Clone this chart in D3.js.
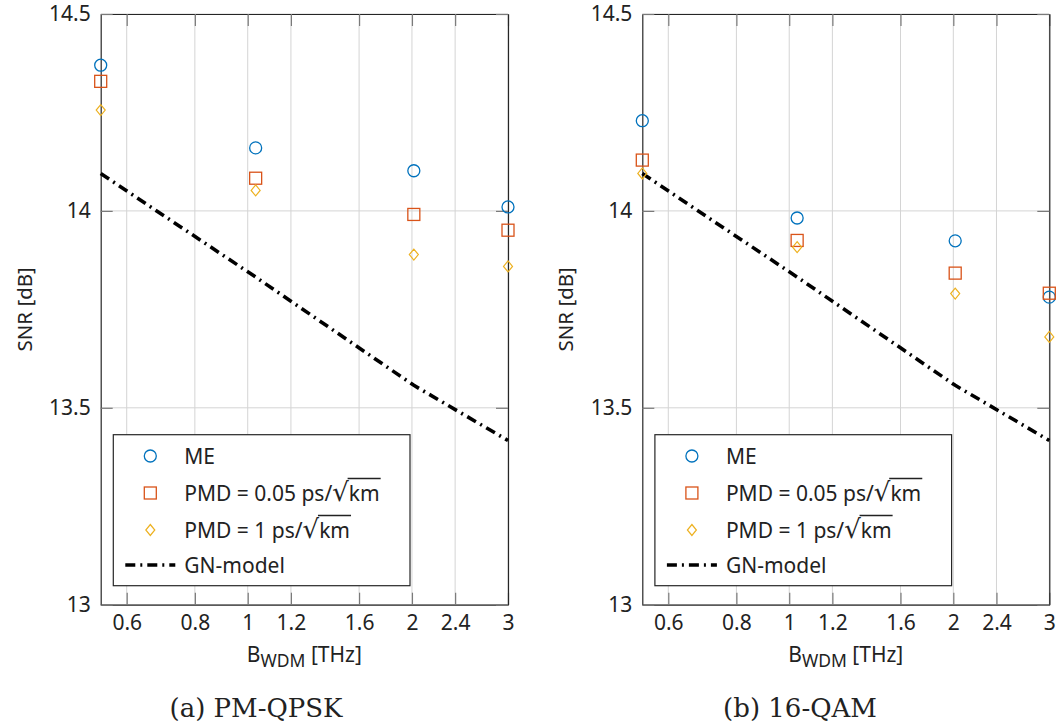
<!DOCTYPE html>
<html><head><meta charset="utf-8">
<script src="https://cdn.jsdelivr.net/npm/d3@7"></script>
<style>
html,body{margin:0;padding:0;background:#fff;}
svg text{font-family:"Noto Sans","Open Sans",sans-serif;fill:#222;}
</style></head>
<body><svg id="chart" width="1059" height="724"></svg>
<script>
// ---- data ----
const bwdm = [0.5376, 1.034, 2.016, 3.0];           // THz
const xTickVals = [0.6, 0.8, 1, 1.2, 1.6, 2, 2.4, 3];
const yTickVals = [13, 13.5, 14, 14.5];
const qpskME     = [14.370, 14.160, 14.102, 14.010];
const qpskPMD005 = [14.329, 14.083, 13.991, 13.951];
const qpskPMD1   = [14.256, 14.052, 13.889, 13.859];
const qamME      = [14.229, 13.982, 13.924, 13.781];
const qamPMD005  = [14.129, 13.925, 13.842, 13.791];
const qamPMD1    = [14.095, 13.908, 13.790, 13.680];
const gnY        = [14.095, 13.832, 13.557, 13.417];   // GN-model at bwdm
const captions = ["(a) PM-QPSK", "(b) 16-QAM"];
const legendLabels = ["ME", "PMD = 0.05 ps/\u221Akm", "PMD = 1 ps/\u221Akm", "GN-model"];

const colors = {ME:"#0072BD", P005:"#D95319", P1:"#EDB120"};
const svg = d3.select("#chart");

const panels = [
  {left:100.7, right:508, me:qpskME, p005:qpskPMD005, p1:qpskPMD1, cap:captions[0], capX:256},
  {left:642.3, right:1049.3, me:qamME, p005:qamPMD005, p1:qamPMD1, cap:captions[1], capX:800}
];
const plotTop = 14, plotBottom = 604.7;

function marker(g, type, x, y) {
  if (type === "ME") {
    g.append("circle").attr("cx", x).attr("cy", y).attr("r", 6)
      .attr("fill", "none").attr("stroke", colors.ME).attr("stroke-width", 1.3);
  } else if (type === "P005") {
    g.append("rect").attr("x", x - 6).attr("y", y - 6).attr("width", 12).attr("height", 12)
      .attr("fill", "none").attr("stroke", colors.P005).attr("stroke-width", 1.3);
  } else {
    g.append("path").attr("d", `M${x},${y-5.5}L${x+4.5},${y}L${x},${y+5.5}L${x-4.5},${y}Z`)
      .attr("fill", "none").attr("stroke", colors.P1).attr("stroke-width", 1.2);
  }
}

panels.forEach(p => {
  const x = d3.scaleLog().domain([bwdm[0], bwdm[3]]).range([p.left, p.right]);
  const y = d3.scaleLinear().domain([13, 14.5]).range([plotBottom, plotTop]);
  const g = svg.append("g");

  // grid
  g.selectAll(".gx").data(xTickVals).enter().append("line")
    .attr("x1", d => x(d)).attr("x2", d => x(d)).attr("y1", plotTop).attr("y2", plotBottom)
    .attr("stroke", "#d4d4d4").attr("stroke-width", 1);
  g.selectAll(".gy").data(yTickVals).enter().append("line")
    .attr("y1", d => y(d)).attr("y2", d => y(d)).attr("x1", p.left).attr("x2", p.right)
    .attr("stroke", "#d4d4d4").attr("stroke-width", 1);

  // axes (ticks inward)
  const xAxis = d3.axisBottom(x).tickValues(xTickVals).tickFormat(d3.format("~g")).tickSizeInner(-12).tickSizeOuter(0).tickPadding(10);
  const gxA = g.append("g").attr("transform", `translate(0,${plotBottom})`).call(xAxis);
  const xAxisTop = d3.axisTop(x).tickValues(xTickVals).tickFormat("").tickSizeInner(-12).tickSizeOuter(0);
  const gxT = g.append("g").attr("transform", `translate(0,${plotTop})`).call(xAxisTop);
  const yAxis = d3.axisLeft(y).tickValues(yTickVals).tickFormat(d3.format("~g")).tickSizeInner(-12).tickSizeOuter(0).tickPadding(10);
  const gyA = g.append("g").attr("transform", `translate(${p.left},0)`).call(yAxis);
  const yAxisR = d3.axisRight(y).tickValues(yTickVals).tickFormat("").tickSizeInner(-12).tickSizeOuter(0);
  const gyR = g.append("g").attr("transform", `translate(${p.right},0)`).call(yAxisR);
  [gxA, gxT, gyA, gyR].forEach(a => {
    a.select(".domain").attr("stroke", "#262626").attr("stroke-width", 1.2);
    a.selectAll(".tick line").attr("stroke", "#7a7a7a").attr("stroke-width", 1.2);
    a.selectAll(".tick text").attr("font-size", 21).attr("fill", "#222")
      .style("font-family", '"Noto Sans","Open Sans",sans-serif');
  });

  // axis labels
  const xl = g.append("text").attr("x", (p.left + p.right) / 2).attr("y", 662)
    .attr("text-anchor", "middle").attr("font-size", 21);
  xl.append("tspan").text("B");
  xl.append("tspan").text("WDM").attr("font-size", 17.5).attr("dy", 4.5);
  xl.append("tspan").text(" [THz]").attr("dy", -4.5);
  g.append("text").attr("transform", `translate(${p.left - 69},${(plotTop + plotBottom) / 2}) rotate(-90)`)
    .attr("text-anchor", "middle").attr("font-size", 20.5).text("SNR [dB]");

  // GN line
  const line = d3.line().x(d => x(d[0])).y(d => y(d[1]));
  g.append("path").datum(bwdm.map((v, i) => [v, gnY[i]])).attr("d", line)
    .attr("fill", "none").attr("stroke", "#000").attr("stroke-width", 3.6)
    .attr("stroke-dasharray", "10,5,2,5");

  // markers
  const mg = g.append("g");
  bwdm.forEach((b, i) => {
    marker(mg, "ME", x(b), y(p.me[i]));
    marker(mg, "P005", x(b), y(p.p005[i]));
    marker(mg, "P1", x(b), y(p.p1[i]));
  });

  // legend
  const lx = p.left + 12.6, ly = 434.7, lw = 296.7, lh = 151;
  const lg = g.append("g");
  lg.append("rect").attr("x", lx).attr("y", ly).attr("width", lw).attr("height", lh)
    .attr("fill", "#fff").attr("stroke", "#262626").attr("stroke-width", 1.2);
  const rows = [456, 493, 530, 565];
  const types = ["ME", "P005", "P1", "GN"];
  types.forEach((t, i) => {
    const mx = lx + 37, ry = rows[i];
    if (t === "GN") {
      lg.append("line").attr("x1", lx + 12).attr("x2", lx + 62).attr("y1", ry).attr("y2", ry)
        .attr("stroke", "#000").attr("stroke-width", 3.6).attr("stroke-dasharray", "10,5,2,5");
    } else {
      marker(lg, t, mx, ry);
    }
    const base = ry + 7.5;
    const tx = lg.append("text").attr("x", lx + 71).attr("y", base).attr("font-size", 21);
    const s = legendLabels[i];
    const parts = s.split("\u221A");
    if (parts.length === 2) {
      tx.append("tspan").text(parts[0]);
      tx.append("tspan").text("\u221A").attr("font-size", 26)
        .style("font-family", '"DejaVu Sans",sans-serif');
      tx.append("tspan").text(parts[1]);
      const node = tx.node();
      const k = parts[0].length;
      const radEnd = node.getEndPositionOfChar(k).x;
      const end = node.getEndPositionOfChar(k + parts[1].length).x;
      lg.append("line").attr("x1", radEnd - 1.2).attr("x2", end + 1)
        .attr("y1", base - 22).attr("y2", base - 22)
        .attr("stroke", "#222").attr("stroke-width", 1.3);
    } else {
      tx.text(s);
    }
  });

  // caption
  svg.append("text").attr("x", p.capX).attr("y", 717).attr("text-anchor", "middle")
    .attr("font-size", 26).style("font-family", '"DejaVu Serif","Liberation Serif",serif')
    .text(p.cap);
});
</script></body></html>
